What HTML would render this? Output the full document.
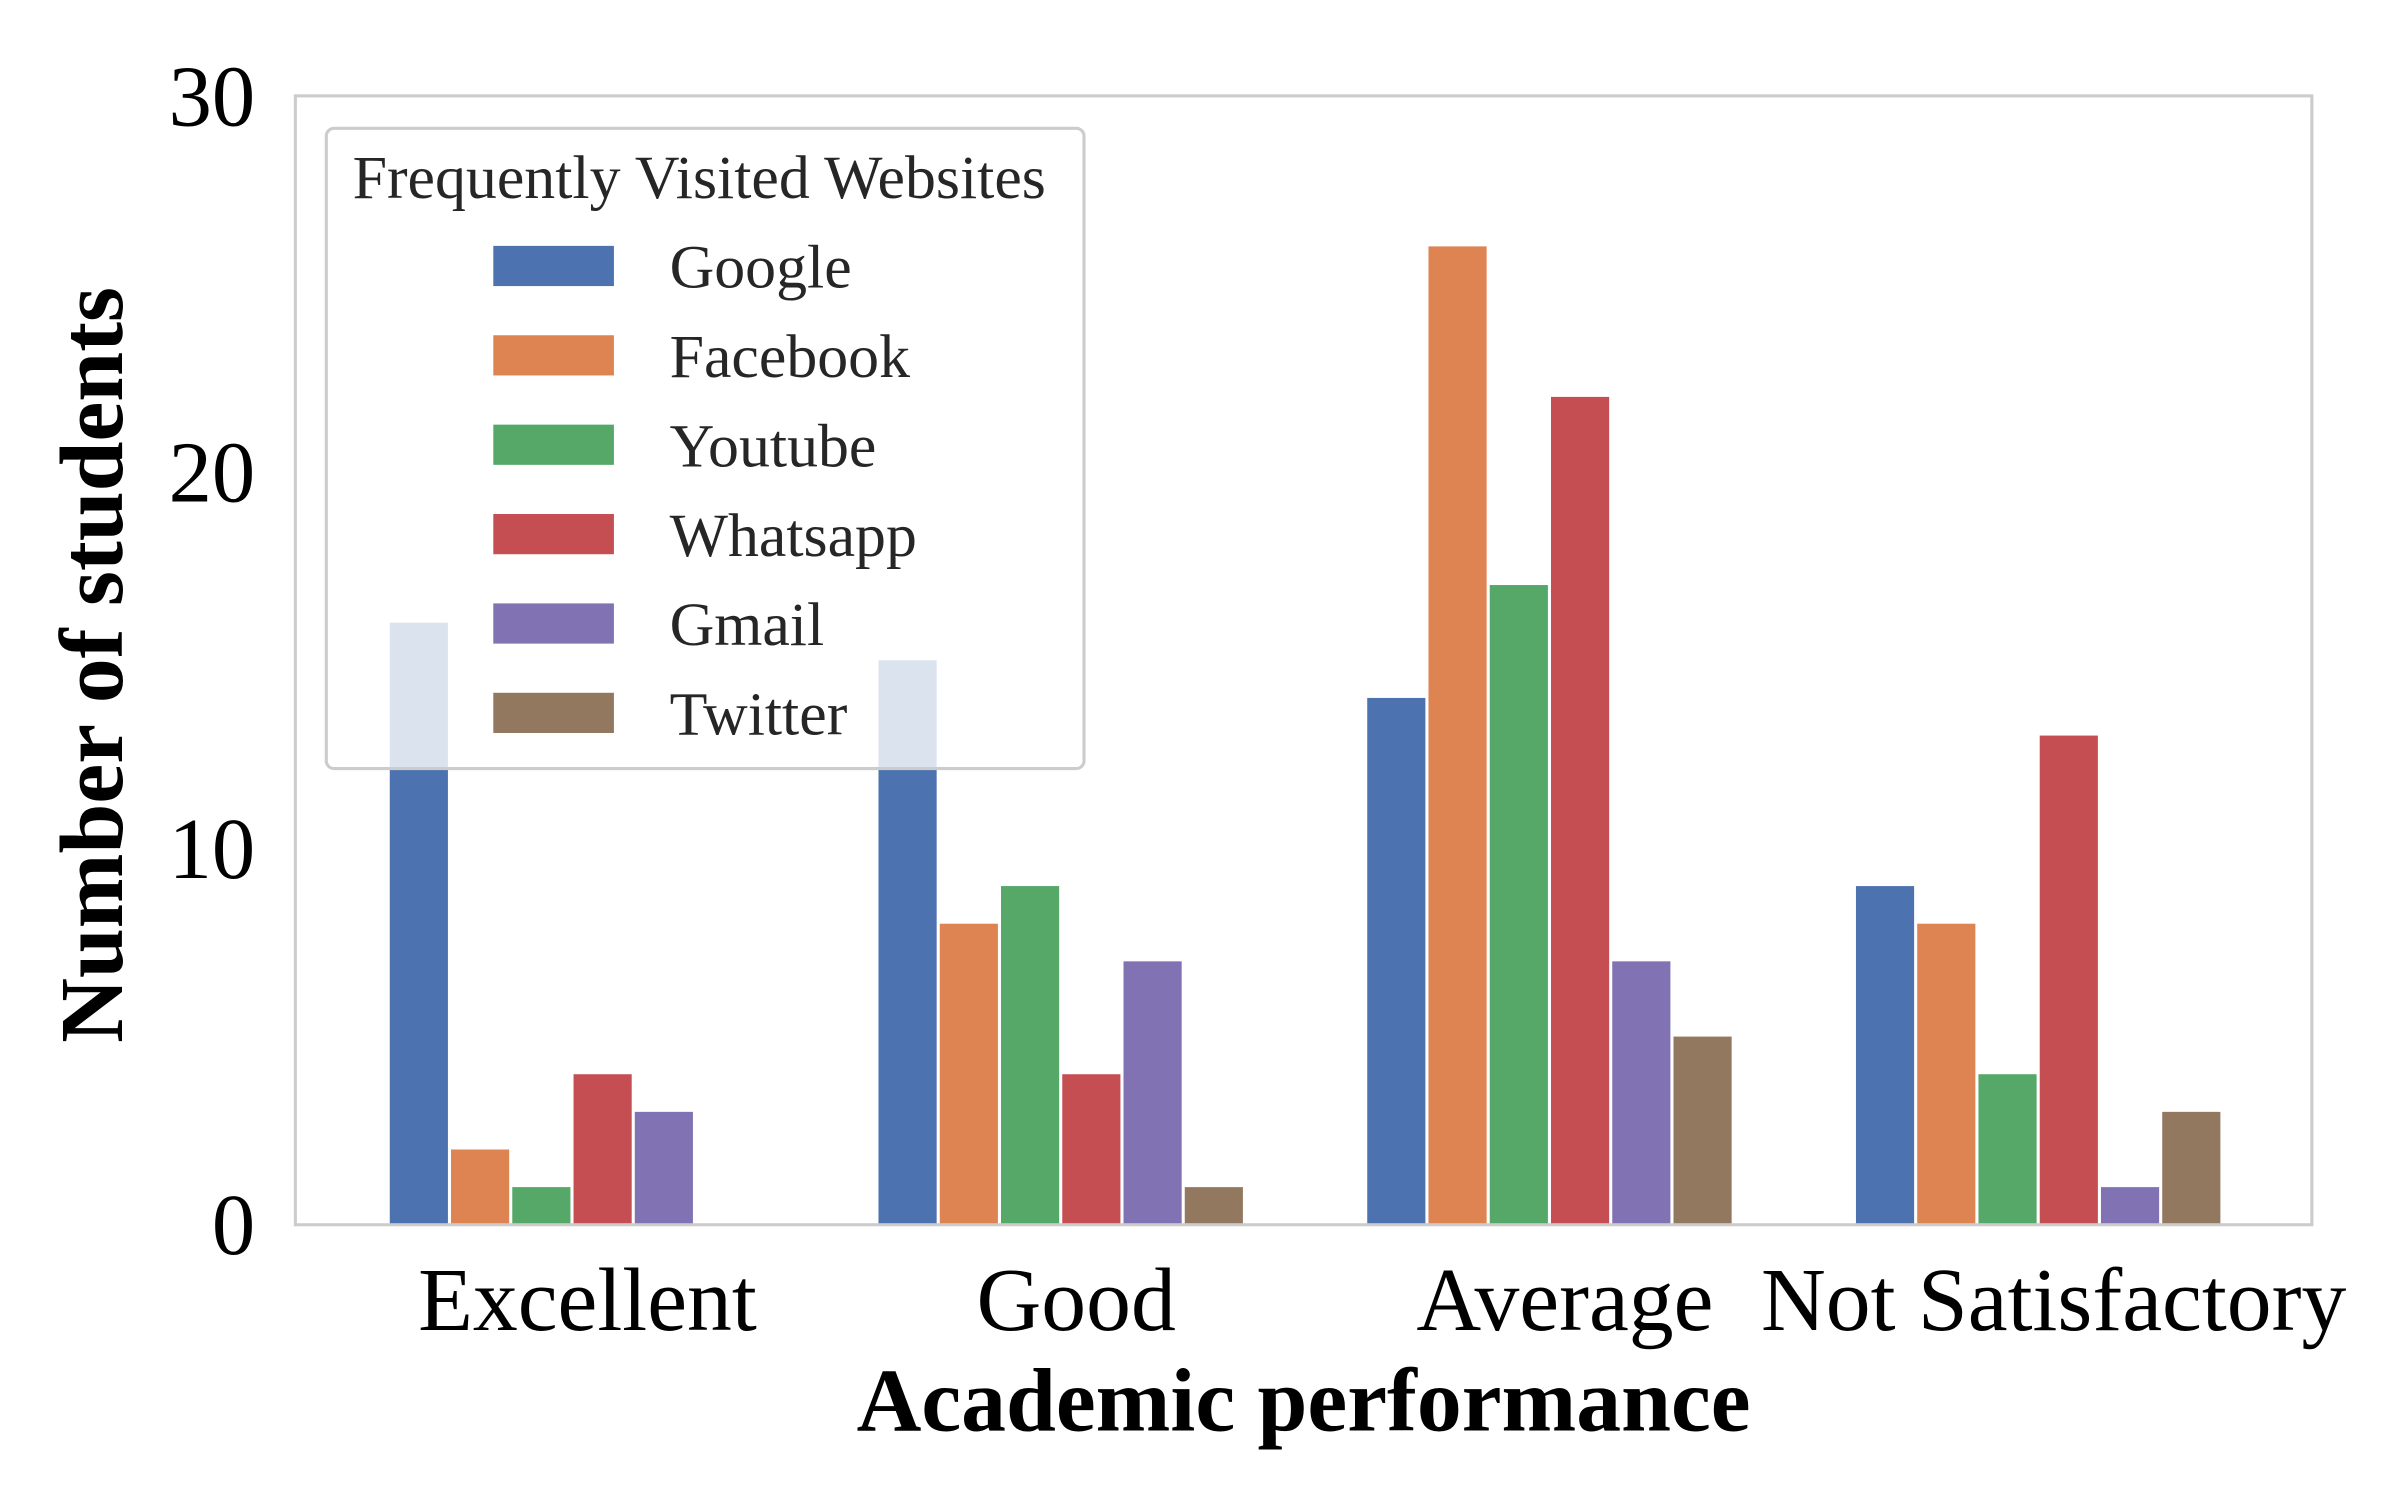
<!DOCTYPE html>
<html><head><meta charset="utf-8"><style>
html,body{margin:0;padding:0;background:#fff;}
svg{display:block;font-family:"Liberation Serif",serif;}
</style></head><body>
<svg id="chart" width="2400" height="1500" viewBox="0 0 1552 970" xmlns="http://www.w3.org/2000/svg">
<rect x="0" y="0" width="1552" height="970" fill="#fff"/>
<g id="bars"></g>
<rect x="191" y="62" width="1304" height="730" fill="none" stroke="#cccccc" stroke-width="2"/>
<g id="yticks"></g>
<g id="xticks"></g>
<text transform="translate(79,430) rotate(-90)" text-anchor="middle" font-size="58" font-weight="bold">Number of students</text>
<text x="843" y="925" text-anchor="middle" font-size="58" font-weight="bold">Academic performance</text>
<g id="legend">
<rect x="211" y="83" width="490" height="414" rx="5" fill="#fff" fill-opacity="0.8" stroke="#cccccc" stroke-width="2"/>
<text x="228" y="128" font-size="40" fill="#262626">Frequently Visited Websites</text>
</g>
</svg>
<script>
const categories = ["Excellent","Good","Average","Not Satisfactory"];
const seriesNames = ["Google","Facebook","Youtube","Whatsapp","Gmail","Twitter"];
const colors = ["#4c72b0","#dd8452","#55a868","#c44e52","#8172b3","#937860"];
const google = [16,15,14,9];
const facebook = [2,8,26,8];
const youtube = [1,9,17,4];
const whatsapp = [4,4,22,13];
const gmail = [3,7,7,1];
const twitter = [0,1,5,3];
const yTicks = [0,10,20,30];
const series = [google,facebook,youtube,whatsapp,gmail,twitter];
const NS="http://www.w3.org/2000/svg";
const plotL=191, plotR=1495, plotT=62, plotB=792;
const xMin=-0.566, xMax=3.56, yMin=0, yMax=30;
function xS(v){return plotL+(v-xMin)/(xMax-xMin)*(plotR-plotL);}
function yS(v){return plotB-(v-yMin)/(yMax-yMin)*(plotB-plotT);}
function mk(tag,attrs,parent){const e=document.createElementNS(NS,tag);for(const k in attrs)e.setAttribute(k,attrs[k]);parent.appendChild(e);return e;}
const barsG=document.getElementById('bars');
const groupW=0.752, bw=groupW/series.length;
series.forEach((s,si)=>{
  s.forEach((v,ci)=>{
    const x0=xS(ci-groupW/2+si*bw), x1=xS(ci-groupW/2+(si+1)*bw);
    const r=mk('rect',{x:x0+1,y:yS(v),width:Math.max(0,x1-x0-2),height:yS(0)-yS(v),fill:colors[si]},barsG);
    
    
  });
});
const yg=document.getElementById('yticks');
yTicks.forEach(t=>{
  const e=mk('text',{x:165,y:yS(t)+19,'text-anchor':'end','font-size':56,fill:'#000'},yg);
  e.textContent=t;
  
  
});
const xg=document.getElementById('xticks');
categories.forEach((c,i)=>{
  const e=mk('text',{x:xS(i)+10,y:860,'text-anchor':'middle','font-size':58,fill:'#000'},xg);
  e.textContent=c;
  
  
});
const lg=document.getElementById('legend');
seriesNames.forEach((n,i)=>{
  const cy=172+i*57.8;
  const sw=mk('rect',{x:319,y:cy-13,width:78,height:26,fill:colors[i]},lg);
  
  
  const t=mk('text',{x:433,y:cy+14,'font-size':40,fill:'#262626'},lg);
  t.textContent=n;
  
  
});
</script>
</body></html>
